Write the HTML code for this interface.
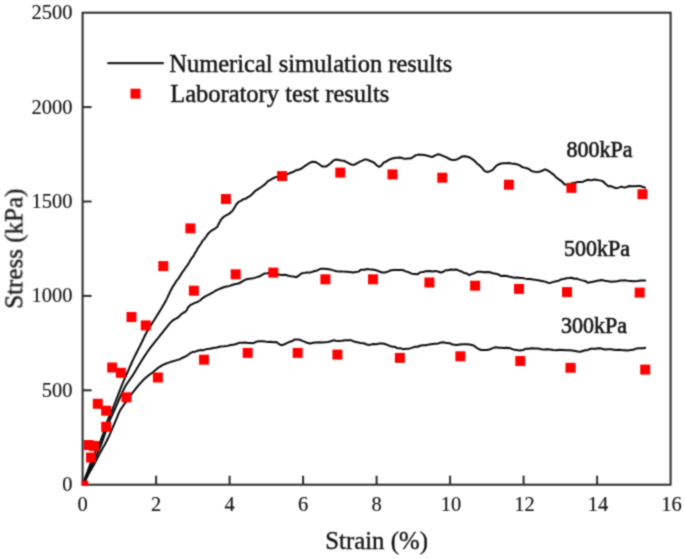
<!DOCTYPE html>
<html><head><meta charset="utf-8"><style>
html,body{margin:0;padding:0;background:#fff;}
svg{display:block;will-change:transform;}
text{font-family:"Liberation Serif",serif;fill:#141414;stroke:#141414;}
.tk text{stroke-width:0.15px;} .ti{stroke-width:0.35px;} .lg text{stroke-width:0.45px;} .kp text{stroke-width:0.6px;}
</style></head><body>
<svg width="685" height="559" viewBox="0 0 685 559">
<defs><filter id="bl" x="0" y="0" width="685" height="559" filterUnits="userSpaceOnUse" color-interpolation-filters="sRGB"><feConvolveMatrix order="3" kernelMatrix="1 2 1 2 8 2 1 2 1" divisor="20" edgeMode="duplicate"/></filter><clipPath id="pa"><rect x="82.6" y="12.7" width="588.0" height="472.0"/></clipPath></defs>
<g filter="url(#bl)"><rect width="685" height="559" fill="#fff"/>
<g fill="none" stroke="#0a0a0a" stroke-width="2.0" stroke-linejoin="round" stroke-linecap="round" clip-path="url(#pa)">
<path d="M82.80,484.50 L82.91,484.20 L83.04,483.83 L83.20,483.38 L83.38,482.88 L83.58,482.34 L83.78,481.78 L83.99,481.19 L84.20,480.61 L84.40,480.04 L84.60,479.50 L84.79,478.97 L84.99,478.43 L85.19,477.88 L85.39,477.33 L85.59,476.77 L85.79,476.21 L85.99,475.65 L86.20,475.10 L86.40,474.54 L86.60,474.00 L86.80,473.46 L87.00,472.92 L87.21,472.38 L87.41,471.84 L87.62,471.31 L87.82,470.77 L88.02,470.25 L88.22,469.72 L88.41,469.21 L88.60,468.70 L88.78,468.20 L88.95,467.72 L89.12,467.24 L89.29,466.77 L89.45,466.31 L89.61,465.84 L89.78,465.37 L89.95,464.89 L90.12,464.40 L90.30,463.90 L90.49,463.38 L90.68,462.85 L90.87,462.31 L91.07,461.76 L91.27,461.21 L91.47,460.66 L91.68,460.11 L91.88,459.56 L92.09,459.03 L92.30,458.50 L92.51,457.98 L92.72,457.47 L92.93,456.97 L93.14,456.47 L93.36,455.98 L93.57,455.48 L93.80,454.99 L94.02,454.49 L94.26,454.00 L94.50,453.50 L94.75,453.00 L95.01,452.51 L95.28,452.02 L95.55,451.52 L95.83,451.03 L96.11,450.54 L96.39,450.04 L96.66,449.53 L96.94,449.02 L97.20,448.50 L97.46,447.97 L97.72,447.43 L97.98,446.89 L98.23,446.34 L98.49,445.78 L98.74,445.22 L98.99,444.67 L99.23,444.11 L99.47,443.55 L99.70,443.00 L99.93,442.45 L100.14,441.91 L100.36,441.37 L100.56,440.82 L100.77,440.28 L100.97,439.74 L101.18,439.19 L101.38,438.63 L101.59,438.07 L101.80,437.50 L102.02,436.92 L102.24,436.32 L102.47,435.72 L102.69,435.11 L102.92,434.50 L103.14,433.89 L103.37,433.28 L103.58,432.68 L103.80,432.08 L104.00,431.50 L104.20,430.93 L104.39,430.37 L104.57,429.81 L104.75,429.26 L104.92,428.72 L105.10,428.18 L105.27,427.63 L105.45,427.09 L105.62,426.55 L105.80,426.00 L105.98,425.45 L106.15,424.90 L106.32,424.35 L106.49,423.80 L106.66,423.25 L106.84,422.70 L107.02,422.15 L107.20,421.60 L107.40,421.05 L107.60,420.50 L107.82,419.95 L108.04,419.39 L108.28,418.83 L108.53,418.28 L108.78,417.72 L109.03,417.16 L109.28,416.61 L109.52,416.07 L109.77,415.53 L110.00,415.00 L110.22,414.51 L110.41,414.09 L110.59,413.71 L110.76,413.33 L110.94,412.95 L111.13,412.53 L111.34,412.05 L111.58,411.48 L111.87,410.81 L112.20,410.00 L112.59,409.04 L113.02,407.96 L113.49,406.76 L114.00,405.48 L114.53,404.14 L115.07,402.76 L115.61,401.37 L116.16,399.98 L116.69,398.61 L117.20,397.30 L117.70,396.01 L118.20,394.71 L118.70,393.40 L119.20,392.08 L119.70,390.77 L120.20,389.46 L120.70,388.17 L121.20,386.89 L121.70,385.63 L122.20,384.40 L122.69,383.21 L123.18,382.07 L123.66,380.96 L124.13,379.88 L124.61,378.79 L125.10,377.70 L125.60,376.59 L126.11,375.45 L126.64,374.25 L127.20,373.00 L127.78,371.68 L128.38,370.31 L128.99,368.90 L129.62,367.45 L130.26,365.98 L130.92,364.50 L131.58,363.01 L132.25,361.52 L132.92,360.05 L133.60,358.60 L134.29,357.15 L135.01,355.69 L135.75,354.22 L136.49,352.75 L137.24,351.29 L137.99,349.84 L138.73,348.40 L139.44,347.00 L140.14,345.63 L140.80,344.30 L141.43,343.01 L142.04,341.74 L142.63,340.49 L143.20,339.27 L143.76,338.07 L144.31,336.90 L144.85,335.76 L145.40,334.64 L145.94,333.56 L146.50,332.50 L147.05,331.49 L147.60,330.54 L148.13,329.64 L148.66,328.77 L149.19,327.92 L149.73,327.07 L150.28,326.22 L150.83,325.35 L151.41,324.45 L152.00,323.50 L152.61,322.52 L153.24,321.52 L153.88,320.51 L154.53,319.49 L155.19,318.45 L155.86,317.39 L156.54,316.32 L157.22,315.23 L157.91,314.13 L158.60,313.00 L159.30,311.85 L160.03,310.66 L160.76,309.45 L161.51,308.22 L162.26,306.98 L163.00,305.73 L163.73,304.48 L164.45,303.24 L165.14,302.01 L165.80,300.80 L166.43,299.59 L167.04,298.37 L167.62,297.14 L168.19,295.92 L168.74,294.70 L169.29,293.50 L169.84,292.32 L170.38,291.17 L170.94,290.06 L171.50,289.00 L172.07,287.98 L172.64,287.01 L173.21,286.08 L173.78,285.17 L174.34,284.29 L174.91,283.43 L176.63,280.54 L178.32,278.63 L179.97,276.14 L181.71,273.16 L183.70,270.47 L185.19,268.27 L186.78,266.16 L188.40,263.90 L190.01,260.85 L191.59,258.33 L193.21,256.42 L194.83,253.35 L196.41,251.00 L197.91,247.86 L199.26,246.11 L201.10,243.53 L202.76,240.62 L204.30,239.10 L206.05,236.77 L208.12,233.67 L210.30,231.55 L212.75,229.87 L215.06,228.55 L217.48,226.69 L218.77,223.68 L220.00,221.43 L221.52,218.99 L223.32,217.19 L225.71,215.54 L228.04,214.30 L230.31,212.81 L232.35,211.10 L233.67,208.94 L235.15,206.57 L236.45,204.27 L238.77,201.79 L241.28,200.68 L243.50,199.10 L246.17,198.42 L248.38,196.89 L250.39,195.81 L252.63,193.76 L255.00,191.16 L257.32,189.59 L259.99,187.97 L262.72,185.94 L265.18,184.18 L267.36,181.71 L269.93,180.12 L272.20,178.75 L275.16,177.29 L278.67,176.48 L282.42,175.71 L286.10,174.66 L289.40,173.30 L292.29,172.32 L294.98,170.78 L297.50,169.91 L299.93,169.31 L302.30,167.82 L304.56,166.20 L306.69,164.89 L308.75,163.45 L311.90,161.83 L315.32,161.89 L317.74,163.28 L320.18,164.97 L322.56,166.55 L325.86,166.62 L328.89,164.68 L330.81,163.05 L333.59,160.41 L336.28,159.51 L338.82,159.91 L341.31,160.46 L343.86,160.77 L346.51,162.04 L349.13,163.48 L351.60,164.70 L354.54,164.63 L357.26,163.06 L359.92,161.66 L362.46,160.67 L365.00,159.36 L367.70,159.84 L370.34,161.03 L373.00,162.02 L375.07,163.63 L376.89,165.51 L379.05,166.79 L381.22,165.57 L383.68,162.60 L386.13,161.54 L388.67,159.87 L391.58,158.71 L394.19,158.04 L396.92,157.83 L400.13,157.58 L402.73,158.33 L405.17,158.89 L407.78,158.41 L410.44,158.47 L412.87,157.32 L415.38,155.37 L418.26,154.62 L421.21,154.72 L424.34,155.06 L427.48,155.67 L429.90,156.48 L432.70,156.91 L434.80,155.59 L437.52,154.31 L440.49,154.79 L442.93,155.96 L446.04,157.10 L448.39,158.47 L451.34,159.78 L454.33,159.95 L456.82,159.41 L459.48,158.18 L462.05,156.44 L464.82,156.31 L467.59,156.81 L470.23,157.78 L472.90,159.57 L474.89,161.10 L476.90,163.47 L479.30,165.17 L481.22,166.92 L483.22,169.45 L485.13,171.36 L487.72,172.07 L490.44,171.17 L492.79,169.95 L494.58,167.70 L496.49,165.68 L498.60,164.49 L501.02,163.52 L503.65,163.15 L506.33,163.27 L508.92,162.91 L511.50,163.43 L514.08,163.85 L516.67,164.26 L519.38,165.16 L522.04,166.99 L524.40,167.61 L526.96,168.22 L529.54,169.49 L531.81,171.12 L534.38,171.73 L537.32,172.12 L540.03,171.44 L542.40,170.69 L544.85,169.31 L547.30,170.27 L549.75,171.71 L551.85,173.44 L553.95,174.90 L556.05,177.32 L558.15,178.90 L560.27,180.40 L562.37,181.88 L564.36,184.23 L566.78,184.73 L569.51,184.20 L572.16,183.18 L574.98,182.62 L577.83,182.05 L580.75,182.07 L583.16,181.67 L585.56,180.59 L588.40,179.82 L591.24,180.38 L594.27,179.47 L597.12,179.94 L599.59,180.37 L602.07,180.86 L604.17,182.38 L605.88,184.27 L608.41,186.21 L610.92,186.08 L613.51,187.29 L615.92,188.16 L618.64,187.64 L621.43,186.60 L624.20,187.61 L626.64,186.97 L629.42,186.01 L632.25,186.21 L635.13,186.17 L637.70,186.06 L640.37,186.04 L643.12,186.96 L645.10,187.60"/>
<path d="M82.80,484.50 L82.94,484.20 L83.13,483.83 L83.34,483.38 L83.59,482.88 L83.85,482.34 L84.12,481.78 L84.40,481.19 L84.68,480.61 L84.95,480.04 L85.20,479.50 L85.44,478.97 L85.68,478.43 L85.92,477.88 L86.16,477.33 L86.39,476.77 L86.63,476.21 L86.87,475.65 L87.11,475.10 L87.36,474.54 L87.60,474.00 L87.85,473.46 L88.10,472.92 L88.35,472.38 L88.60,471.84 L88.86,471.31 L89.11,470.77 L89.36,470.25 L89.61,469.72 L89.86,469.21 L90.10,468.70 L90.34,468.20 L90.57,467.72 L90.80,467.24 L91.02,466.77 L91.24,466.31 L91.47,465.84 L91.69,465.37 L91.92,464.89 L92.16,464.40 L92.40,463.90 L92.65,463.38 L92.90,462.86 L93.16,462.33 L93.42,461.79 L93.69,461.24 L93.95,460.70 L94.22,460.15 L94.48,459.60 L94.74,459.05 L95.00,458.50 L95.25,457.95 L95.51,457.41 L95.76,456.86 L96.01,456.31 L96.26,455.76 L96.50,455.20 L96.75,454.65 L97.00,454.10 L97.25,453.55 L97.50,453.00 L97.75,452.45 L98.00,451.91 L98.26,451.37 L98.51,450.82 L98.76,450.28 L99.01,449.74 L99.26,449.19 L99.51,448.63 L99.76,448.07 L100.00,447.50 L100.24,446.92 L100.47,446.34 L100.70,445.75 L100.93,445.16 L101.16,444.56 L101.39,443.96 L101.62,443.35 L101.84,442.74 L102.07,442.12 L102.30,441.50 L102.53,440.87 L102.76,440.23 L102.99,439.59 L103.22,438.94 L103.46,438.28 L103.69,437.62 L103.92,436.97 L104.15,436.31 L104.37,435.65 L104.60,435.00 L104.82,434.36 L105.03,433.73 L105.24,433.11 L105.44,432.50 L105.65,431.88 L105.86,431.24 L106.08,430.60 L106.30,429.93 L106.54,429.23 L106.80,428.50 L107.07,427.74 L107.34,426.95 L107.62,426.14 L107.90,425.32 L108.20,424.47 L108.51,423.60 L108.83,422.72 L109.17,421.83 L109.53,420.92 L109.90,420.00 L110.30,419.05 L110.74,418.06 L111.20,417.05 L111.68,416.01 L112.18,414.97 L112.67,413.93 L113.15,412.90 L113.63,411.90 L114.08,410.93 L114.50,410.00 L114.89,409.12 L115.27,408.27 L115.63,407.45 L115.98,406.66 L116.32,405.88 L116.65,405.10 L116.98,404.34 L117.32,403.57 L117.65,402.79 L118.00,402.00 L118.35,401.20 L118.69,400.40 L119.03,399.60 L119.38,398.80 L119.72,398.00 L120.06,397.20 L120.41,396.40 L120.77,395.60 L121.13,394.80 L121.50,394.00 L121.88,393.19 L122.27,392.37 L122.66,391.54 L123.06,390.70 L123.47,389.88 L123.88,389.06 L124.28,388.25 L124.69,387.47 L125.10,386.72 L125.50,386.00 L125.90,385.32 L126.30,384.67 L126.70,384.05 L127.10,383.46 L127.49,382.88 L127.89,382.30 L128.29,381.74 L128.69,381.17 L129.10,380.59 L129.50,380.00 L129.89,379.43 L130.26,378.90 L130.62,378.39 L130.98,377.89 L131.35,377.38 L131.73,376.83 L132.14,376.24 L132.58,375.58 L133.06,374.84 L133.60,374.00 L134.19,373.04 L134.84,371.97 L135.53,370.81 L136.26,369.58 L137.01,368.31 L137.77,367.02 L138.54,365.72 L139.31,364.43 L140.07,363.19 L140.80,362.00 L141.53,360.84 L142.26,359.68 L143.01,358.52 L143.75,357.36 L144.49,356.22 L145.23,355.10 L145.95,354.01 L146.66,352.96 L147.34,351.95 L148.00,351.00 L148.63,350.10 L149.25,349.25 L149.85,348.45 L150.43,347.68 L151.00,346.94 L151.56,346.22 L152.10,345.53 L152.64,344.85 L153.17,344.17 L153.70,343.50 L154.21,342.85 L154.70,342.22 L155.17,341.63 L155.64,341.05 L156.09,340.49 L156.55,339.92 L157.01,339.35 L157.49,338.76 L157.98,338.15 L158.50,337.50 L159.03,336.83 L159.57,336.14 L160.12,335.45 L160.68,334.74 L161.25,334.01 L161.83,333.28 L162.43,332.53 L163.03,331.76 L163.66,330.99 L164.30,330.20 L164.96,329.38 L165.65,328.51 L166.36,327.61 L167.08,326.69 L167.81,325.76 L168.55,324.85 L169.30,323.96 L170.04,323.12 L170.77,322.32 L171.50,321.60 L172.22,320.95 L172.94,320.36 L173.66,319.83 L174.38,319.33 L176.55,318.36 L178.70,316.90 L180.97,314.45 L183.27,312.77 L185.26,311.81 L186.89,309.76 L188.32,307.06 L190.78,304.79 L193.22,303.70 L195.57,302.58 L197.96,301.73 L200.35,300.26 L202.22,298.41 L204.84,296.65 L207.34,295.39 L210.16,293.94 L213.06,292.27 L215.80,290.54 L218.42,289.37 L221.07,288.29 L223.70,287.28 L226.26,286.52 L228.70,286.17 L232.20,284.97 L235.53,284.06 L238.51,283.57 L240.94,282.25 L243.35,280.91 L245.90,279.46 L249.19,278.66 L251.86,278.62 L254.50,277.87 L257.05,277.16 L259.60,276.29 L262.15,274.78 L264.74,273.41 L267.39,273.23 L269.98,272.59 L273.04,272.58 L275.61,273.70 L278.60,274.54 L281.67,274.95 L285.14,274.83 L288.38,275.70 L290.87,276.21 L293.41,276.48 L296.42,277.16 L298.74,275.61 L301.39,273.58 L304.06,272.88 L307.28,272.41 L310.68,272.39 L313.98,271.31 L317.22,270.43 L320.46,268.80 L323.70,268.64 L326.92,268.94 L330.12,269.39 L333.33,270.35 L336.54,271.21 L339.74,271.46 L342.95,271.60 L346.20,271.64 L349.62,272.01 L352.98,272.51 L355.90,271.90 L358.57,271.63 L360.82,269.81 L364.20,269.73 L367.51,268.99 L370.93,269.62 L373.96,269.76 L376.77,270.44 L379.37,271.49 L382.22,272.46 L384.80,272.56 L387.84,271.61 L390.33,270.54 L393.08,269.91 L396.00,269.97 L399.22,269.93 L402.58,270.01 L405.80,271.39 L408.83,272.32 L411.77,273.72 L414.53,273.93 L417.70,274.13 L420.47,272.20 L422.90,271.94 L425.97,271.20 L429.38,270.92 L432.69,271.43 L435.63,270.90 L438.41,271.76 L440.89,272.47 L443.37,271.73 L445.54,270.21 L448.06,270.20 L450.71,269.51 L453.46,269.70 L456.49,269.43 L458.94,270.61 L461.60,271.50 L464.09,272.97 L466.82,273.59 L469.42,275.13 L472.15,273.92 L474.43,273.17 L477.51,271.66 L480.67,271.71 L484.11,272.28 L487.30,271.89 L490.18,272.31 L492.88,273.33 L495.90,273.80 L498.35,274.43 L501.22,276.09 L504.07,275.77 L507.20,276.08 L509.68,276.69 L512.30,277.27 L514.94,277.71 L517.50,277.47 L520.05,277.99 L522.60,278.01 L525.16,278.62 L527.73,279.02 L530.32,279.09 L532.90,279.46 L535.48,279.74 L538.06,280.36 L540.64,280.79 L543.22,281.24 L545.80,281.87 L548.38,282.91 L550.96,282.67 L553.54,281.86 L556.12,281.23 L558.70,280.74 L561.28,279.30 L563.86,278.95 L566.44,278.22 L569.02,278.09 L571.60,277.78 L574.18,278.75 L576.78,278.56 L579.60,279.63 L582.32,280.37 L585.02,280.96 L587.60,282.65 L590.50,282.15 L593.00,281.70 L596.21,280.96 L598.93,280.44 L601.60,280.04 L604.81,280.81 L608.14,281.28 L611.19,281.82 L614.85,281.55 L617.47,281.37 L620.12,280.48 L622.70,280.55 L625.25,280.37 L627.83,280.75 L630.38,280.88 L634.05,281.16 L637.52,281.06 L640.98,280.55 L643.88,280.58 L645.20,280.60"/>
<path d="M82.80,484.50 L82.97,484.24 L83.18,483.91 L83.43,483.53 L83.71,483.10 L84.01,482.62 L84.33,482.12 L84.66,481.60 L84.98,481.07 L85.30,480.53 L85.60,480.00 L85.89,479.46 L86.19,478.88 L86.49,478.29 L86.79,477.67 L87.09,477.05 L87.39,476.42 L87.69,475.80 L88.00,475.18 L88.30,474.58 L88.60,474.00 L88.90,473.44 L89.20,472.89 L89.51,472.34 L89.81,471.81 L90.11,471.27 L90.41,470.75 L90.71,470.23 L91.01,469.72 L91.31,469.21 L91.60,468.70 L91.89,468.20 L92.17,467.72 L92.45,467.24 L92.73,466.77 L93.01,466.31 L93.29,465.84 L93.57,465.37 L93.84,464.89 L94.12,464.40 L94.40,463.90 L94.68,463.38 L94.96,462.86 L95.24,462.33 L95.52,461.79 L95.80,461.24 L96.08,460.70 L96.36,460.15 L96.64,459.60 L96.92,459.05 L97.20,458.50 L97.48,457.95 L97.76,457.40 L98.04,456.84 L98.32,456.28 L98.60,455.73 L98.88,455.17 L99.16,454.62 L99.44,454.07 L99.72,453.53 L100.00,453.00 L100.28,452.48 L100.56,451.96 L100.85,451.45 L101.13,450.94 L101.41,450.44 L101.69,449.94 L101.97,449.45 L102.25,448.96 L102.53,448.48 L102.80,448.00 L103.06,447.55 L103.31,447.12 L103.55,446.72 L103.79,446.33 L104.03,445.94 L104.28,445.53 L104.53,445.09 L104.80,444.62 L105.09,444.09 L105.40,443.50 L105.74,442.84 L106.10,442.13 L106.49,441.36 L106.89,440.56 L107.29,439.73 L107.71,438.88 L108.12,438.02 L108.52,437.17 L108.92,436.32 L109.30,435.50 L109.67,434.69 L110.03,433.87 L110.38,433.05 L110.73,432.23 L111.07,431.41 L111.42,430.58 L111.76,429.76 L112.11,428.94 L112.45,428.12 L112.80,427.30 L113.15,426.49 L113.50,425.68 L113.85,424.87 L114.20,424.06 L114.55,423.25 L114.90,422.44 L115.25,421.63 L115.60,420.82 L115.95,420.01 L116.30,419.20 L116.65,418.38 L116.98,417.55 L117.32,416.71 L117.65,415.86 L117.98,415.02 L118.32,414.19 L118.67,413.37 L119.03,412.56 L119.41,411.77 L119.80,411.00 L120.22,410.26 L120.65,409.53 L121.10,408.82 L121.56,408.13 L122.03,407.45 L122.51,406.78 L122.99,406.11 L123.46,405.44 L123.94,404.77 L124.40,404.10 L124.86,403.43 L125.32,402.75 L125.78,402.09 L126.24,401.42 L126.69,400.76 L127.15,400.10 L127.61,399.44 L128.07,398.79 L128.54,398.14 L129.00,397.50 L129.47,396.86 L129.93,396.23 L130.40,395.60 L130.87,394.97 L131.34,394.35 L131.82,393.73 L132.29,393.12 L132.76,392.51 L133.23,391.90 L133.70,391.30 L134.17,390.71 L134.63,390.12 L135.08,389.54 L135.54,388.97 L136.00,388.39 L136.46,387.82 L136.93,387.25 L137.41,386.67 L137.90,386.09 L138.40,385.50 L138.92,384.89 L139.46,384.26 L140.02,383.62 L140.59,382.98 L141.16,382.33 L141.73,381.70 L142.29,381.08 L142.84,380.48 L143.38,379.92 L143.90,379.40 L144.40,378.92 L144.88,378.47 L145.35,378.05 L145.81,377.65 L146.27,377.27 L146.72,376.91 L147.16,376.56 L147.61,376.21 L148.05,375.86 L148.50,375.50 L148.94,375.15 L149.38,374.82 L149.81,374.49 L150.24,374.18 L150.67,373.87 L151.10,373.56 L151.53,373.24 L151.98,372.91 L152.43,372.56 L152.90,372.20 L153.38,371.81 L153.87,371.40 L154.36,370.98 L154.87,370.55 L155.38,370.11 L155.89,369.67 L156.41,369.23 L156.94,368.80 L157.47,368.39 L158.00,368.00 L158.53,367.62 L159.06,367.26 L159.59,366.90 L160.13,366.55 L160.67,366.21 L161.22,365.87 L161.79,365.54 L162.37,365.22 L162.97,364.91 L163.60,364.60 L164.26,364.30 L164.97,363.99 L165.71,363.70 L166.46,363.41 L167.22,363.12 L167.99,362.85 L168.74,362.59 L169.46,362.35 L170.15,362.11 L170.80,361.90 L171.40,361.71 L171.98,361.54 L172.53,361.39 L173.06,361.25 L173.57,361.12 L174.07,361.00 L174.55,360.89 L177.40,359.85 L180.05,359.23 L182.74,357.73 L185.10,356.59 L187.81,355.03 L189.99,353.27 L192.37,352.07 L195.00,351.80 L197.64,350.70 L200.82,350.04 L203.54,350.16 L206.59,349.07 L209.78,348.81 L213.22,347.93 L216.82,347.51 L220.40,346.49 L223.88,346.31 L227.36,345.90 L230.84,344.94 L234.41,344.42 L236.90,343.79 L239.35,342.70 L242.72,342.73 L245.36,342.53 L247.95,342.91 L250.70,342.98 L253.28,343.15 L256.07,341.85 L259.06,341.31 L262.37,341.34 L264.87,341.39 L267.38,341.88 L270.71,341.83 L273.50,342.27 L276.40,342.05 L278.69,343.78 L281.11,345.22 L283.97,344.56 L286.79,343.11 L289.59,341.82 L292.05,341.17 L294.62,339.58 L297.14,339.42 L299.75,339.68 L302.30,340.84 L305.10,341.82 L307.66,343.08 L310.34,343.48 L313.14,342.80 L316.10,342.46 L319.15,342.16 L322.24,342.43 L325.10,342.20 L327.79,341.99 L330.73,341.28 L333.30,340.35 L336.03,340.78 L338.80,340.90 L341.80,340.86 L344.88,340.35 L348.19,340.34 L350.96,340.20 L354.03,341.57 L357.28,342.33 L360.50,342.91 L363.65,343.30 L366.80,344.48 L369.95,344.90 L373.10,344.06 L376.25,344.30 L379.40,343.60 L382.57,343.51 L385.89,344.33 L389.14,345.69 L392.00,346.64 L394.86,346.84 L397.26,348.19 L400.12,348.23 L403.37,349.14 L406.50,348.75 L409.18,348.66 L411.72,347.90 L414.54,346.81 L417.52,346.74 L420.00,345.76 L422.80,345.17 L425.87,345.28 L429.18,344.38 L432.72,344.04 L435.33,343.77 L438.06,343.45 L440.78,342.60 L443.38,342.23 L446.78,343.10 L449.68,343.26 L452.70,344.59 L456.50,344.91 L459.70,344.39 L463.17,344.31 L466.58,344.25 L469.62,344.46 L472.97,345.24 L475.29,346.68 L477.95,348.68 L481.00,349.99 L484.09,350.06 L486.60,349.94 L489.52,349.56 L492.66,348.09 L495.57,347.27 L498.42,347.67 L501.14,347.75 L503.86,348.02 L507.05,347.65 L510.30,348.32 L513.23,349.40 L516.32,349.89 L519.28,350.55 L522.99,349.95 L525.67,348.85 L528.33,348.83 L531.96,348.32 L535.32,348.59 L538.50,348.58 L541.50,349.19 L544.17,349.49 L547.43,349.26 L550.10,349.50 L553.15,350.10 L556.41,350.31 L559.72,349.65 L562.99,349.95 L566.33,350.27 L569.58,350.27 L572.55,350.58 L575.20,350.96 L577.69,351.40 L580.20,351.69 L582.78,350.99 L585.37,350.31 L587.94,349.93 L590.56,348.76 L593.26,348.84 L595.81,348.71 L598.45,348.24 L601.13,348.59 L604.64,349.43 L608.39,349.17 L611.12,349.29 L613.81,349.67 L616.38,350.05 L619.03,349.67 L621.71,350.02 L624.29,350.14 L627.70,350.60 L630.25,349.98 L632.93,349.76 L636.14,348.57 L639.50,348.31 L642.86,348.20 L645.20,347.80"/>
</g>
<g fill="#ff0000" clip-path="url(#pa)">
<rect x="83.80" y="440.00" width="10" height="10"/><rect x="89.10" y="441.00" width="10" height="10"/><rect x="86.00" y="452.50" width="10" height="10"/><rect x="92.80" y="398.80" width="10" height="10"/><rect x="101.20" y="405.70" width="10" height="10"/><rect x="101.20" y="421.80" width="10" height="10"/><rect x="107.20" y="362.50" width="10" height="10"/><rect x="115.80" y="367.80" width="10" height="10"/><rect x="121.50" y="392.30" width="10" height="10"/><rect x="126.50" y="312.00" width="10" height="10"/><rect x="140.80" y="320.40" width="10" height="10"/><rect x="152.90" y="372.50" width="10" height="10"/><rect x="158.30" y="261.10" width="10" height="10"/><rect x="185.40" y="223.40" width="10" height="10"/><rect x="188.90" y="285.70" width="10" height="10"/><rect x="199.00" y="354.70" width="10" height="10"/><rect x="220.90" y="194.00" width="10" height="10"/><rect x="230.70" y="269.30" width="10" height="10"/><rect x="242.70" y="347.90" width="10" height="10"/><rect x="268.30" y="267.60" width="10" height="10"/><rect x="277.10" y="171.10" width="10" height="10"/><rect x="292.70" y="347.90" width="10" height="10"/><rect x="320.40" y="274.30" width="10" height="10"/><rect x="335.30" y="167.60" width="10" height="10"/><rect x="332.40" y="349.60" width="10" height="10"/><rect x="368.00" y="274.30" width="10" height="10"/><rect x="387.50" y="169.40" width="10" height="10"/><rect x="394.90" y="352.90" width="10" height="10"/><rect x="424.40" y="277.50" width="10" height="10"/><rect x="437.30" y="172.70" width="10" height="10"/><rect x="455.40" y="351.30" width="10" height="10"/><rect x="470.10" y="280.70" width="10" height="10"/><rect x="503.90" y="179.70" width="10" height="10"/><rect x="514.00" y="283.90" width="10" height="10"/><rect x="515.30" y="356.00" width="10" height="10"/><rect x="566.40" y="182.90" width="10" height="10"/><rect x="562.00" y="287.10" width="10" height="10"/><rect x="565.50" y="362.80" width="10" height="10"/><rect x="637.50" y="189.20" width="10" height="10"/><rect x="634.70" y="287.60" width="10" height="10"/><rect x="640.20" y="364.60" width="10" height="10"/>
</g>
<g stroke="#2a2a2a" stroke-width="2" fill="none">
<rect x="82.6" y="12.7" width="588.0" height="472.0"/>
<line x1="156.1" y1="484.7" x2="156.1" y2="475.7"/><line x1="229.6" y1="484.7" x2="229.6" y2="475.7"/><line x1="303.1" y1="484.7" x2="303.1" y2="475.7"/><line x1="376.6" y1="484.7" x2="376.6" y2="475.7"/><line x1="450.1" y1="484.7" x2="450.1" y2="475.7"/><line x1="523.6" y1="484.7" x2="523.6" y2="475.7"/><line x1="597.1" y1="484.7" x2="597.1" y2="475.7"/><line x1="82.6" y1="390.3" x2="91.6" y2="390.3"/><line x1="82.6" y1="295.9" x2="91.6" y2="295.9"/><line x1="82.6" y1="201.5" x2="91.6" y2="201.5"/><line x1="82.6" y1="107.1" x2="91.6" y2="107.1"/>
</g>
<clipPath id="oc"><rect x="81.6" y="470" width="20" height="15.8"/></clipPath>
<rect x="78.20" y="480.60" width="10" height="10" fill="#ff0000" clip-path="url(#oc)"/>
<g font-size="20.5" class="tk"><text x="82.6" y="511.4" text-anchor="middle">0</text><text x="156.1" y="511.4" text-anchor="middle">2</text><text x="229.6" y="511.4" text-anchor="middle">4</text><text x="303.1" y="511.4" text-anchor="middle">6</text><text x="376.6" y="511.4" text-anchor="middle">8</text><text x="451.1" y="511.4" text-anchor="middle">10</text><text x="524.6" y="511.4" text-anchor="middle">12</text><text x="598.1" y="511.4" text-anchor="middle">14</text><text x="671.6" y="511.4" text-anchor="middle">16</text><text x="72.5" y="491.2" text-anchor="end">0</text><text x="72.5" y="396.8" text-anchor="end">500</text><text x="72.5" y="302.4" text-anchor="end">1000</text><text x="72.5" y="208.0" text-anchor="end">1500</text><text x="72.5" y="113.6" text-anchor="end">2000</text><text x="72.5" y="19.2" text-anchor="end">2500</text></g>
<text x="376.6" y="549.4" font-size="24.8" text-anchor="middle" class="ti">Strain (%)</text>
<text transform="translate(22.3,248.7) rotate(-90)" font-size="25" class="ti" text-anchor="middle">Stress (kPa)</text>
<line x1="107.3" y1="63.1" x2="163.8" y2="63.1" stroke="#222" stroke-width="2.2"/>
<rect x="130.50" y="88.70" width="10" height="10" fill="#ff0000"/>
<g font-size="24.5" class="lg"><text x="169.2" y="71.8">Numerical simulation results</text><text x="170.2" y="102">Laboratory test results</text></g>
<g font-size="22" class="kp"><text transform="translate(566.5,157.3) scale(1,1.06)">800kPa</text><text transform="translate(564,256.2) scale(1,1.06)">500kPa</text><text transform="translate(561,333.3) scale(1,1.06)">300kPa</text></g>
</g></svg>
</body></html>
